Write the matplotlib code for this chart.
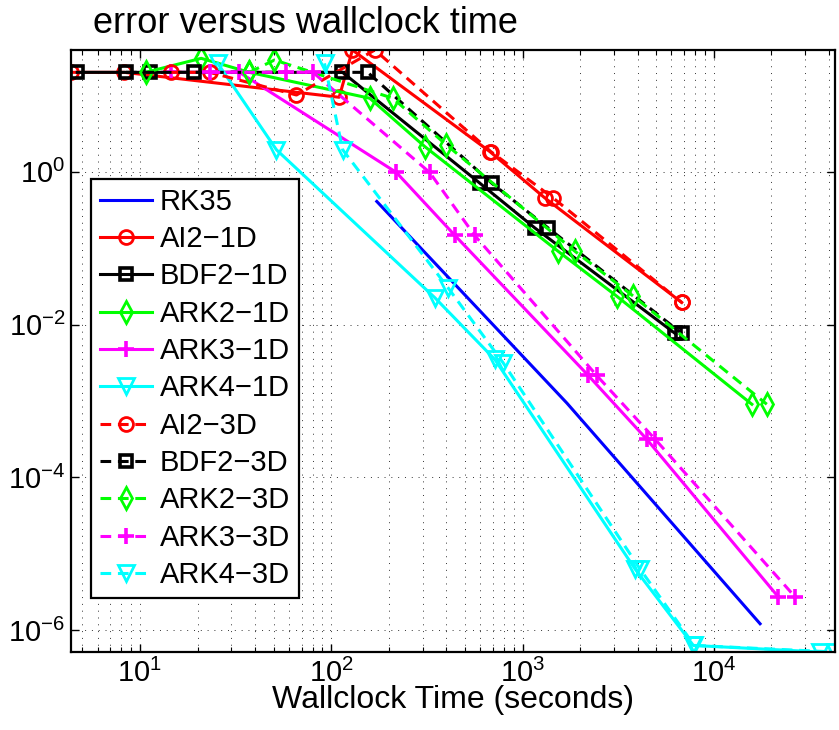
import matplotlib
matplotlib.use("Agg")
import matplotlib.pyplot as plt
from matplotlib.ticker import FixedLocator, NullLocator, LogLocator, LogFormatterMathtext, NullFormatter

plt.rcParams['font.family'] = ['Liberation Sans', 'DejaVu Sans']
plt.rcParams['mathtext.default'] = 'regular'
plt.rcParams['axes.unicode_minus'] = True

# ---------------- data ----------------
labels = ['RK35', 'AI2−1D', 'BDF2−1D', 'ARK2−1D', 'ARK3−1D', 'ARK4−1D',
          'AI2−3D', 'BDF2−3D', 'ARK2−3D', 'ARK3−3D', 'ARK4−3D']

rk35_t = [173, 1706, 17450]
rk35_e = [0.409, 9.4e-4, 1.22e-6]

ai2_1d_t = [4.36, 8.28, 110, 129, 674, 1309, 6795]
ai2_1d_e = [20, 20, 9.44, 39.2, 1.84, 0.454, 0.0195]
ai2_3d_t = [14.5, 23.1, 65.8, 169, 682, 1446, 6795]
ai2_3d_e = [20, 20, 10.1, 39.2, 1.84, 0.454, 0.0195]

bdf2_1d_t = [4.70, 11.3, 114.5, 597, 1160, 6270]
bdf2_1d_e = [20, 20, 20, 0.712, 0.184, 0.00768]
bdf2_3d_t = [8.45, 19.2, 155, 689, 1361, 6795]
bdf2_3d_e = [20, 20, 20, 0.712, 0.184, 0.00768]

ark2_1d_t = [10.7, 20.9, 37.3, 159, 308, 1535, 3105, 15810]
ark2_1d_e = [20, 30.5, 20, 9.16, 2.14, 0.0912, 0.0236, 0.000908]
ark2_3d_t = [37.3, 50.5, 210, 400, 1879, 3793, 18920]
ark2_3d_e = [20, 29.0, 9.16, 2.25, 0.0912, 0.0236, 0.000908]

ark3_1d_t = [14.5, 33.1, 219, 443, 2203, 4457, 21780]
ark3_1d_e = [20, 20, 0.98, 0.147, 0.00217, 0.000317, 2.72e-6]
ark3_3d_t = [23.1, 58.1, 80.2, 327, 562, 2438, 4930, 26660]
ark3_3d_e = [20, 20, 20, 0.98, 0.147, 0.00217, 0.000317, 2.72e-6]

ark4_1d_t = [25.5, 51.7, 348, 716, 3872, 7813, 36060]
ark4_1d_e = [26.2, 1.94, 0.0225, 0.00351, 6.37e-6, 6.35e-7, 5.21e-7]
ark4_3d_t = [92.2, 114.8, 408, 791, 4112, 7900, 43000]
ark4_3d_e = [26.2, 1.94, 0.0303, 0.00318, 6.37e-6, 6.35e-7, 5.21e-7]

yticks = [1e-6, 1e-4, 1e-2, 1e0]

# ---------------- figure ----------------
W, H = 839, 730
fig = plt.figure(figsize=(W / 100, H / 100), dpi=100)
ax = fig.add_axes([71 / W, 1 - 652 / H, (835 - 71) / W, (652 - 50) / H])

LW = 2.2
dash = (3.5, 2.2)
RED, BLK, GRN, MAG, CYN, BLU = '#ff0000', '#000000', '#00ff00', '#ff00ff', '#00ffff', '#0000ff'
series = [
    (rk35_t, rk35_e, BLU, '-', None, 0),
    (ai2_1d_t, ai2_1d_e, RED, '-', 'o', 10),
    (bdf2_1d_t, bdf2_1d_e, BLK, '-', 's', 8),
    (ark2_1d_t, ark2_1d_e, GRN, '-', 'd', 11),
    (ark3_1d_t, ark3_1d_e, MAG, '-', '+', 11),
    (ark4_1d_t, ark4_1d_e, CYN, '-', 'v', 11),
    (ai2_3d_t, ai2_3d_e, RED, '--', 'o', 10),
    (bdf2_3d_t, bdf2_3d_e, BLK, '--', 's', 8),
    (ark2_3d_t, ark2_3d_e, GRN, '--', 'd', 11),
    (ark3_3d_t, ark3_3d_e, MAG, '--', '+', 11),
    (ark4_3d_t, ark4_3d_e, CYN, '--', 'v', 11),
]

handles = []
for (t, e, col, ls, mk, ms), lab in zip(series, labels):
    kw = dict(color=col, lw=LW, label=lab, clip_on=True)
    if mk is not None:
        mew = {'+': 2.6, 's': 2.6}.get(mk, 2.0)
        kw.update(marker=mk, markersize=ms, markerfacecolor='none',
                  markeredgecolor=col, markeredgewidth=mew)
    line, = ax.plot(t, e, **kw)
    if ls == '--':
        line.set_dashes(dash)
    handles.append(line)

ax.set_xscale('log')
ax.set_yscale('log')
all_t = rk35_t + ai2_1d_t + ai2_3d_t + bdf2_1d_t + bdf2_3d_t + ark2_1d_t + ark2_3d_t \
    + ark3_1d_t + ark3_3d_t + ark4_1d_t + ark4_3d_t
all_e = rk35_e + ai2_1d_e + ai2_3d_e + bdf2_1d_e + bdf2_3d_e + ark2_1d_e + ark2_3d_e \
    + ark3_1d_e + ark3_3d_e + ark4_1d_e + ark4_3d_e
ax.set_xlim(min(all_t), max(all_t))
ax.set_ylim(min(all_e), max(all_e))

ax.xaxis.set_major_locator(LogLocator(base=10))
ax.xaxis.set_minor_locator(LogLocator(base=10, subs=range(2, 10)))
ax.xaxis.set_major_formatter(LogFormatterMathtext())
ax.xaxis.set_minor_formatter(NullFormatter())
ax.yaxis.set_major_locator(FixedLocator(yticks))
ax.yaxis.set_minor_locator(NullLocator())
ax.yaxis.set_major_formatter(LogFormatterMathtext())

ax.tick_params(which='both', direction='in', top=True, right=True, labelsize=21)
ax.tick_params(which='major', length=6, width=1.0)
ax.tick_params(axis='y', which='major', pad=4)
ax.tick_params(axis='x', which='major', pad=5)
ax.tick_params(which='minor', length=3.5, width=0.8)

grid_kw = dict(color='#333333', lw=0.7, linestyle=(0, (1, 6)))
ax.grid(True, which='major', axis='both', **grid_kw)
ax.grid(True, which='minor', axis='x', **grid_kw)
ax.set_axisbelow(True)

for sp in ax.spines.values():
    sp.set_linewidth(1.6)

ax.set_xlabel('Wallclock Time (seconds)', fontsize=23, labelpad=-2)
fig.text(93 / W, 1 - 33 / H, 'error versus wallclock time', fontsize=26,
         ha='left', va='baseline')

leg = ax.legend(handles=handles, loc='upper left',
                bbox_to_anchor=(91 / W, 1 - 179 / H), bbox_transform=fig.transFigure,
                fontsize=21, frameon=True, fancybox=False, framealpha=1,
                edgecolor='k', handlelength=1.8, handletextpad=0.25,
                labelspacing=0.32, borderpad=0.3, borderaxespad=0, numpoints=1)
leg.get_frame().set_linewidth(1.6)

fig.savefig('out.png', dpi=100)
